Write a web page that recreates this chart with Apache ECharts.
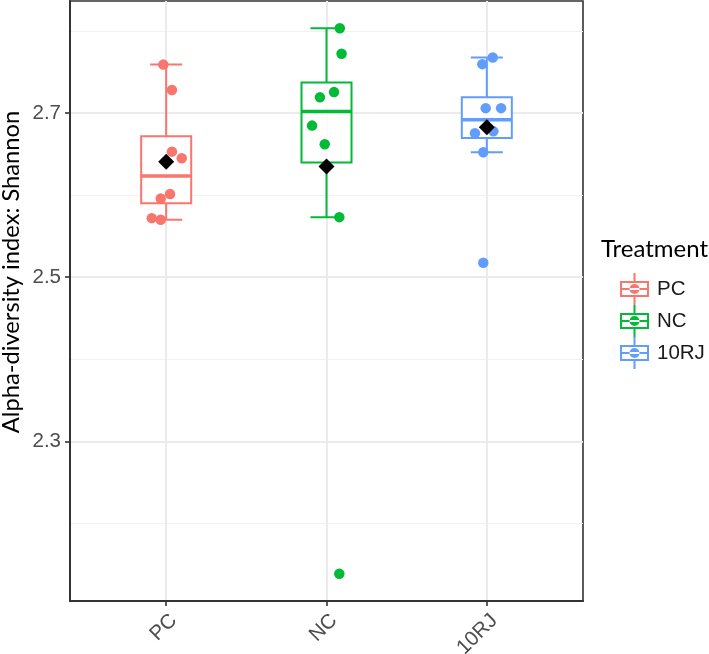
<!DOCTYPE html>
<html><head><meta charset="utf-8">
<script src="https://cdn.jsdelivr.net/npm/echarts@6/dist/echarts.min.js"></script>
<style>html,body{margin:0;padding:0;background:#fff}#chart{width:709px;height:654px}</style>
</head><body><div id="chart"></div>
<script>
// ---- data ----
const categories = ['PC', 'NC', '10RJ'];
const colors = ['#F8766D', '#00BA38', '#619CFF'];
const pcValues = [2.759, 2.728, 2.653, 2.645, 2.6015, 2.596, 2.572, 2.570];
const pcJitter = [-0.018, 0.036, 0.036, 0.097, 0.024, -0.034, -0.090, -0.034];
const ncValues = [2.8033, 2.7722, 2.7255, 2.7191, 2.6847, 2.6619, 2.5732, 2.1388];
const ncJitter = [0.083, 0.094, 0.047, -0.041, -0.090, -0.011, 0.080, 0.080];
const rjValues = [2.7677, 2.7596, 2.706, 2.706, 2.6777, 2.6753, 2.6522, 2.5176];
const rjJitter = [0.037, -0.028, -0.007, 0.089, 0.041, -0.074, -0.022, -0.022];
const yTickValues = [2.3, 2.5, 2.7];
const yMinorValues = [2.2, 2.4, 2.6, 2.8];
const yTitle = 'Alpha-diversity index: Shannon';
const legendTitle = 'Treatment';

const groupValues = [pcValues, ncValues, rjValues];
const groupJitter = [pcJitter, ncJitter, rjJitter];

function quantile(s, p) {
  const h = (s.length - 1) * p, lo = Math.floor(h), hi = Math.ceil(h);
  return s[lo] + (h - lo) * (s[hi] - s[lo]);
}
function boxStats(vals) {
  const s = [...vals].sort((a, b) => a - b);
  const q1 = quantile(s, 0.25), med = quantile(s, 0.5), q3 = quantile(s, 0.75);
  const iqr = q3 - q1;
  const lo = s.find(v => v >= q1 - 1.5 * iqr);
  const hi = [...s].reverse().find(v => v <= q3 + 1.5 * iqr);
  const mean = s.reduce((a, b) => a + b, 0) / s.length;
  return { lo, q1, med, q3, hi, mean };
}

const keyPath = 'path://M0,8 L29,8 L29,24 L0,24 Z M2,10 L2,22 L27,22 L27,10 Z M13.5,0 L15.5,0 L15.5,8 L13.5,8 Z M13.5,24 L15.5,24 L15.5,32 L13.5,32 Z M2,15 L27,15 L27,17 L2,17 Z M19.5,16 A5,5 0 1,0 9.5,16 A5,5 0 1,0 19.5,16 Z';

const series = [];
categories.forEach((name, i) => {
  const st = boxStats(groupValues[i]);
  const color = colors[i];
  series.push({
    type: 'custom', name: name, z: 2,
    itemStyle: { color: color },
    data: [[i + 1, st.lo, st.q1, st.med, st.q3, st.hi]],
    encode: { x: 0, y: [1, 2, 3, 4, 5] },
    renderItem: function (params, api) {
      const x = api.value(0);
      const c = api.coord([x, api.value(1)]);
      const cx = c[0], yLo = c[1];
      const yQ1 = api.coord([x, api.value(2)])[1];
      const yMed = api.coord([x, api.value(3)])[1];
      const yQ3 = api.coord([x, api.value(4)])[1];
      const yHi = api.coord([x, api.value(5)])[1];
      const hw = api.size([0.156, 0])[0];
      const cw = api.size([0.1, 0])[0];
      const ls = { stroke: color, lineWidth: 2 };
      return { type: 'group', children: [
        { type: 'line', shape: { x1: cx, y1: yHi, x2: cx, y2: yQ3 }, style: ls },
        { type: 'line', shape: { x1: cx, y1: yQ1, x2: cx, y2: yLo }, style: ls },
        { type: 'line', shape: { x1: cx - cw, y1: yHi, x2: cx + cw, y2: yHi }, style: ls },
        { type: 'line', shape: { x1: cx - cw, y1: yLo, x2: cx + cw, y2: yLo }, style: ls },
        { type: 'rect', shape: { x: cx - hw, y: yQ3, width: 2 * hw, height: yQ1 - yQ3 },
          style: { fill: 'rgba(255,255,255,0.8)', stroke: color, lineWidth: 2 } },
        { type: 'line', shape: { x1: cx - hw, y1: yMed, x2: cx + hw, y2: yMed }, style: { stroke: color, lineWidth: 3.4 } }
      ]};
    }
  });
  series.push({
    type: 'scatter', name: name, z: 3,
    symbol: 'circle', symbolSize: 10.5,
    itemStyle: { color: color, opacity: 1 },
    data: groupValues[i].map((v, k) => [i + 1 + groupJitter[i][k], v])
  });
  series.push({
    type: 'scatter', name: 'mean_' + name, z: 4,
    symbol: 'diamond', symbolSize: 16,
    itemStyle: { color: '#000', opacity: 1 },
    data: [[i + 1, st.mean]]
  });
});

const chart = echarts.init(document.getElementById('chart'), null, { renderer: 'canvas' });
chart.setOption({
  animation: false,
  backgroundColor: '#fff',
  grid: { left: 70, right: 126, top: 1, bottom: 53, containLabel: false, outerBoundsMode: 'none',
    show: true, borderColor: '#333', borderWidth: 1.6, backgroundColor: 'transparent' },
  xAxis: {
    type: 'value', min: 0.4, max: 3.6,
    axisLine: { show: true, lineStyle: { color: '#333', width: 2 } },
    axisTick: { show: true, customValues: [1, 2, 3], length: 5, lineStyle: { color: '#333', width: 1.6 } },
    axisLabel: { customValues: [1, 2, 3], rotate: 45, margin: 9, verticalAlign: 'top', fontSize: 20.5, color: '#4D4D4D',
      fontFamily: 'Liberation Sans', formatter: v => categories[Math.round(v) - 1] },
    splitLine: { show: true, lineStyle: { color: '#EBEBEB', width: 2 } }
  },
  yAxis: [{
    type: 'value', min: 2.1056, max: 2.8365,
    axisLine: { show: true, lineStyle: { color: '#333', width: 2 } },
    axisTick: { show: true, customValues: yTickValues, length: 5, lineStyle: { color: '#333', width: 1.6 } },
    axisLabel: { customValues: yTickValues, margin: 9, fontSize: 20.5, color: '#4D4D4D', fontFamily: 'Liberation Sans',
      formatter: v => v.toFixed(1) },
    splitLine: { show: true, lineStyle: { color: '#EBEBEB', width: 2 } }
  }, {
    type: 'value', min: 2.1056, max: 2.8365, position: 'left',
    axisLine: { show: false }, axisLabel: { show: false },
    axisTick: { show: false, customValues: yMinorValues },
    splitLine: { show: true, lineStyle: { color: '#F1F1F1', width: 1 } }
  }],
  legend: {
    orient: 'vertical', left: 615, top: 268, itemWidth: 29, itemHeight: 32, itemGap: 0,
    selectedMode: false,
    textStyle: { fontFamily: 'Liberation Sans', fontSize: 20.5, color: '#1a1a1a', padding: [0, 0, 0, 3] },
    data: categories.map((n, i) => ({ name: n, icon: keyPath, itemStyle: { color: colors[i], opacity: 1 } }))
  },
  graphic: [
    { type: 'text', x: 11, y: 272, rotation: Math.PI / 2,
      style: { text: yTitle, align: 'center', verticalAlign: 'middle', font: '23.7px Lato', fill: '#000' } },
    { type: 'text', x: 601, y: 249,
      style: { text: legendTitle, align: 'left', verticalAlign: 'middle', font: '24px Lato', fill: '#000' } }
  ],
  series: series
});
</script>
</body></html>
